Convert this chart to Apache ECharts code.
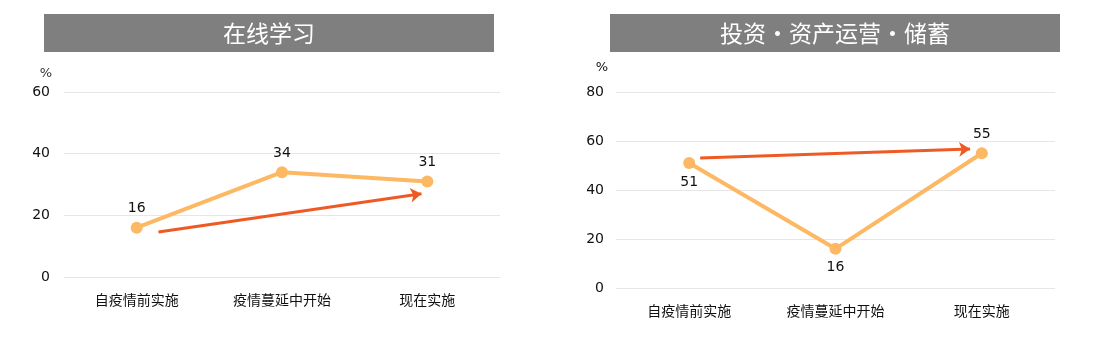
<!DOCTYPE html>
<html>
<head>
<meta charset="utf-8">
<script src="https://cdn.jsdelivr.net/npm/echarts@6/dist/echarts.min.js"></script>
<style>html,body{margin:0;padding:0;background:#fff}#c{width:1108px;height:344px}</style>
</head>
<body>
<div id="c"></div>
<script>
var categories = ['自疫情前实施', '疫情蔓延中开始', '现在实施'];
var titles = ['在线学习', '投资・资产运营・储蓄'];
var unitLabel = '%';
var onlineValues = [16, 34, 31];
var investValues = [51, 16, 55];
var onlineTicks = [0, 20, 40, 60];
var investTicks = [0, 20, 40, 60, 80];
// trend arrows: [categoryPosition, value] start and end
var onlineArrow = [[0.15, 14.6], [1.96, 27]];
var investArrow = [[0.075, 53.1], [1.92, 56.7]];

var FONT = "'DejaVu Sans', 'Noto Sans CJK SC', sans-serif";
var LINE = '#FDB863';
var ARROW = '#EE5A24';

var chart = echarts.init(document.getElementById('c'));

function yAx(idx, ticks, margin) {
  return {
    type: 'value', gridIndex: idx,
    min: ticks[0], max: ticks[ticks.length - 1], interval: ticks[1] - ticks[0],
    axisLine: { show: false }, axisTick: { show: false },
    axisLabel: { color: '#111', fontSize: 14, fontFamily: FONT, margin: margin },
    splitLine: { lineStyle: { color: '#e6e6e6', width: 1 } }
  };
}
function xCat(idx) {
  return {
    type: 'category', gridIndex: idx, data: categories, boundaryGap: true,
    axisLine: { show: false }, axisTick: { show: false },
    axisLabel: { color: '#111', fontSize: 14, fontFamily: FONT, margin: 17 }
  };
}
function xVal(idx) {
  return { type: 'value', gridIndex: idx, min: -0.5, max: 2.5, show: false };
}

function lineSeries(idx, values, positions) {
  return {
    type: 'line', xAxisIndex: idx * 2, yAxisIndex: idx,
    data: values.map(function (v, i) {
      return { value: v, label: { position: positions[i] } };
    }),
    symbol: 'circle', symbolSize: 12,
    lineStyle: { color: LINE, width: 4 },
    itemStyle: { color: LINE },
    label: { show: true, color: '#111', fontSize: 14, fontFamily: FONT, distance: 6 },
    z: 3
  };
}
function arrowSeries(idx, coords) {
  return {
    type: 'lines', coordinateSystem: 'cartesian2d', xAxisIndex: idx * 2 + 1, yAxisIndex: idx,
    data: [{ coords: coords }],
    symbol: ['none', 'arrow'], symbolSize: 11,
    lineStyle: { color: ARROW, width: 3, opacity: 1 },
    z: 4
  };
}

chart.setOption({
  animation: false,
  graphic: [
    { type: 'rect', shape: { x: 44, y: 14, width: 450, height: 38 }, style: { fill: '#7f7f7f' } },
    { type: 'text', x: 269, y: 33, style: { text: titles[0], fill: '#fff', font: "23px 'Noto Sans CJK SC'", textAlign: 'center', textVerticalAlign: 'middle' } },
    { type: 'rect', shape: { x: 610, y: 14, width: 450, height: 38 }, style: { fill: '#7f7f7f' } },
    { type: 'text', x: 835, y: 33, style: { text: titles[1], fill: '#fff', font: "23px 'Noto Sans CJK SC'", textAlign: 'center', textVerticalAlign: 'middle' } },
    { type: 'text', x: 46, y: 74, style: { text: unitLabel, fill: '#333', font: "13px 'DejaVu Sans'", textAlign: 'center', textVerticalAlign: 'middle' } },
    { type: 'text', x: 602, y: 68, style: { text: unitLabel, fill: '#111', font: "13px 'DejaVu Sans'", textAlign: 'center', textVerticalAlign: 'middle' } }
  ],
  grid: [
    { left: 64, right: 608, top: 92, bottom: 67 },
    { left: 616, right: 53, top: 92, bottom: 56 }
  ],
  xAxis: [xCat(0), xVal(0), xCat(1), xVal(1)],
  yAxis: [yAx(0, onlineTicks, 14), yAx(1, investTicks, 12)],
  series: [
    lineSeries(0, onlineValues, ['top', 'top', 'top']),
    arrowSeries(0, onlineArrow),
    lineSeries(1, investValues, ['bottom', 'bottom', 'top']),
    arrowSeries(1, investArrow)
  ]
});
</script>
</body>
</html>
